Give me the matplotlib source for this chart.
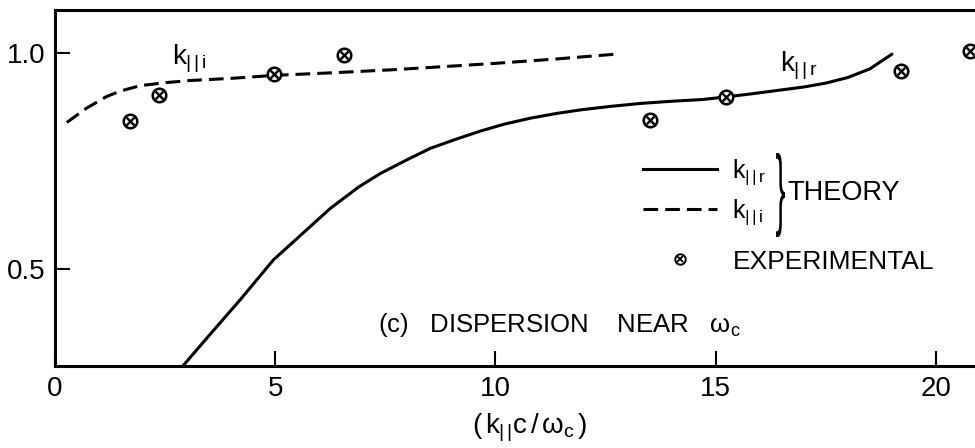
import matplotlib
matplotlib.use("Agg")
import matplotlib.pyplot as plt
from matplotlib.lines import Line2D
from matplotlib.textpath import TextPath
from matplotlib.patches import PathPatch
from matplotlib.font_manager import FontProperties
import matplotlib.transforms as mtransforms

plt.rcParams['font.family'] = ['Liberation Sans', 'DejaVu Sans']
plt.rcParams['mathtext.fontset'] = 'custom'
plt.rcParams['mathtext.rm'] = 'Liberation Sans'
plt.rcParams['mathtext.it'] = 'Liberation Sans'
plt.rcParams['mathtext.bf'] = 'Liberation Sans:bold'

# theory, real part k_||r (solid)
kr_x = [2.85, 3.5, 4.2, 4.96, 5.6, 6.25, 6.9, 7.39, 8.0, 8.52, 9.1, 9.66, 10.2,
        10.8, 11.4, 11.93, 12.6, 13.3, 14.0, 14.7, 15.23, 15.8, 16.4, 17.0,
        17.5, 18.0, 18.5, 19.0]
kr_y = [0.270, 0.347, 0.429, 0.522, 0.581, 0.641, 0.691, 0.722, 0.754, 0.780,
        0.801, 0.820, 0.836, 0.850, 0.861, 0.869, 0.877, 0.884, 0.889, 0.893,
        0.899, 0.906, 0.914, 0.922, 0.931, 0.944, 0.964, 0.998]

# theory, imaginary part k_||i (dashed)
ki_x = [0.27, 0.7, 1.17, 1.5, 1.93, 2.5, 3.07, 4.0, 5.0, 6.32, 7.68, 8.8,
        10.04, 11.4, 12.73]
ki_y = [0.840, 0.872, 0.900, 0.913, 0.925, 0.932, 0.937, 0.942, 0.949, 0.955,
        0.962, 0.969, 0.977, 0.987, 0.998]

# measured points
exp_x = [1.70, 2.37, 4.98, 6.55, 13.5, 15.23, 19.2, 20.77]
exp_y = [0.844, 0.903, 0.951, 0.996, 0.846, 0.898, 0.958, 1.005]

xticks = [0, 5, 10, 15, 20]
xtick_labels = ['0', '5', '10', '15', '20']
yticks = [0.5, 1.0]
ytick_labels = ['0.5', '1.0']

lbl_r = r'$k_{|\,|\,r}$'
lbl_i = r'$k_{|\,|\,i}$'

W, H = 975, 448
fig = plt.figure(figsize=(W / 100, H / 100), dpi=100)
ax = fig.add_axes([55 / W, 82 / H, 920 / W, 356 / H])
ax.set_xlim(0, 20.886)
ax.set_ylim(0.2762, 1.1002)

lw = 2.2
dash = (0, (4.8, 2.3))
ax.plot(kr_x, kr_y, color='black', lw=lw, solid_capstyle='round')
ax.plot(ki_x, ki_y, color='black', lw=lw, ls=dash)
ax.scatter(exp_x, exp_y, s=95, facecolors='white', edgecolors='black',
           linewidths=1.8, zorder=3)
ax.scatter(exp_x, exp_y, s=32, marker='x', c='black', linewidths=1.7, zorder=4)

for side in ['left', 'bottom', 'top']:
    ax.spines[side].set_linewidth(lw)
ax.spines['right'].set_visible(False)

ax.set_xticks(xticks)
ax.set_xticklabels(xtick_labels)
ax.set_yticks(yticks)
ax.set_yticklabels(ytick_labels)
ax.tick_params(direction='in', length=10.8, width=1.5, pad=7, labelsize=20,
               top=False, right=False)

ax.set_xlabel(r'$(\,k_{|\,|}c\,/\,\omega_c\,)$', fontsize=20)
ax.xaxis.set_label_coords(0.516, -0.127)

ax.text(2.65, 0.973, lbl_i, fontsize=20, va='baseline')
ax.text(16.46, 0.957, lbl_r, fontsize=20, va='baseline')
ax.text(7.33, 0.355, r'(c)   DISPERSION    NEAR   $\omega_c$', fontsize=18.5,
        va='baseline')

# legend: theory curves
fs1 = 18
h_solid = Line2D([], [], color='black', lw=lw)
h_dash = Line2D([], [], color='black', lw=lw, ls=dash)
leg1 = ax.legend([h_solid, h_dash], [lbl_r, lbl_i],
                 loc='center left', bbox_to_anchor=(643 / W, 1 - 192 / H),
                 bbox_transform=fig.transFigure, frameon=False, fontsize=fs1,
                 handlelength=74 / (fs1 * 100 / 72), handletextpad=0.6,
                 labelspacing=0.4, borderpad=0, borderaxespad=0)
ax.add_artist(leg1)

# legend: measured points
fs2 = 19
h_circ = Line2D([], [], ls='none', marker='o', ms=7.5, mfc='white',
                mec='black', mew=1.4)
h_x = Line2D([], [], ls='none', marker='x', ms=4.5, mec='black', mew=1.4)
ax.legend([(h_circ, h_x)], ['EXPERIMENTAL'], loc='center left',
          bbox_to_anchor=(643 / W, 1 - 261.7 / H),
          bbox_transform=fig.transFigure, frameon=False, fontsize=fs2,
          handlelength=74 / (fs2 * 100 / 72), handletextpad=0.6,
          borderpad=0, borderaxespad=0)

# curly brace joining the two theory entries
tp = TextPath((0, 0), '}', size=1, prop=FontProperties(family='Liberation Sans'))
ext = tp.get_extents()
bx0, by0, bw, bh = 776, H - 237, 9, 84
tr = (mtransforms.Affine2D().translate(-ext.x0, -ext.y0)
      .scale(bw / ext.width, bh / ext.height).translate(bx0, by0))
fig.add_artist(PathPatch(tp, transform=tr, color='black', lw=0))
fig.text(787 / W, 1 - 193 / H, 'THEORY', fontsize=19.5, va='center')

fig.savefig('out.png', dpi=100)
